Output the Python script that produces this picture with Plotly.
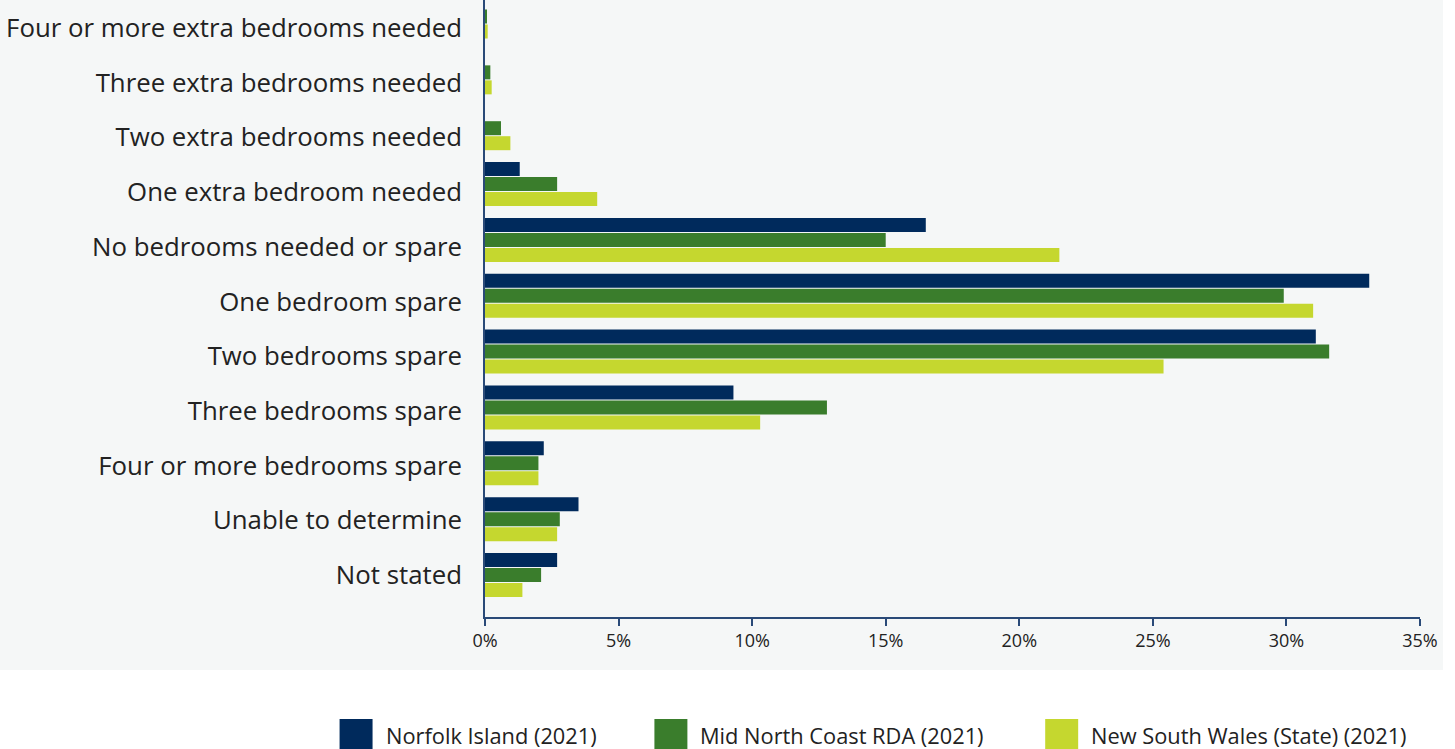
import plotly.graph_objects as go

categories = [
    "Four or more extra bedrooms needed",
    "Three extra bedrooms needed",
    "Two extra bedrooms needed",
    "One extra bedroom needed",
    "No bedrooms needed or spare",
    "One bedroom spare",
    "Two bedrooms spare",
    "Three bedrooms spare",
    "Four or more bedrooms spare",
    "Unable to determine",
    "Not stated",
]
series_names = ["Norfolk Island (2021)", "Mid North Coast RDA (2021)", "New South Wales (State) (2021)"]
norfolk = [0.0, 0.0, 0.0, 1.3, 16.5, 33.1, 31.1, 9.3, 2.2, 3.5, 2.7]
mid_north_coast = [0.05, 0.2, 0.6, 2.7, 15.0, 29.9, 31.6, 12.8, 2.0, 2.8, 2.1]
nsw = [0.1, 0.25, 0.95, 4.2, 21.5, 31.0, 25.4, 10.3, 2.0, 2.7, 1.4]
x_ticks = [0, 5, 10, 15, 20, 25, 30, 35]

colors = ["#002a5c", "#3a7d2c", "#c5d72f"]
bg = "#f5f7f7"
axis_col = "#2a4a78"
FONT = "Open Sans"

W, H = 1455, 749
L, R, T, B = 484.5, 1420, 0, 617

fig = go.Figure()
for name, vals, c in zip(series_names, [norfolk, mid_north_coast, nsw], colors):
    fig.add_trace(go.Bar(y=categories, x=vals, orientation="h", name=name,
                         marker=dict(color=c, line=dict(width=0)), showlegend=False))

# invisible trace carrying category labels on overlay axis
fig.add_trace(go.Scatter(y=categories, x=[0] * len(categories), yaxis="y2", mode="markers",
                         marker=dict(opacity=0), showlegend=False, hoverinfo="skip"))

pw = R - L
ph = B - T
fig.update_layout(
    width=W, height=H,
    margin=dict(l=L, r=W - R, t=T, b=H - B, pad=0),
    paper_bgcolor="white", plot_bgcolor="rgba(0,0,0,0)",
    barmode="group", bargap=0.194, bargroupgap=0.067,
    font=dict(family=FONT, color="#222222"),
    xaxis=dict(range=[0, 35], tickvals=x_ticks, ticktext=[f"{v}%" for v in x_ticks],
               showgrid=False, zeroline=False, showline=True, linecolor=axis_col, linewidth=1.5,
               ticks="outside", ticklen=7, tickcolor=axis_col, tickwidth=1.5,
               tickfont=dict(size=18, color="#222222", family=FONT)),
    yaxis=dict(type="category", categoryarray=categories, range=[10.752, -0.2954],
               showticklabels=False, showgrid=False, zeroline=False,
               showline=True, linecolor=axis_col, linewidth=1.5),
    yaxis2=dict(type="category", categoryarray=categories, overlaying="y", side="left",
                range=[10.768, -0.512], showgrid=False, zeroline=False, showline=False,
                ticks="", ticklabelstandoff=22,
                tickfont=dict(size=25.8, color="#222222", family=FONT)),
)

# gray background panel
fig.add_shape(type="rect", xref="paper", yref="paper", layer="below",
              x0=-L / pw - 0.01, x1=(1443 - L) / pw, y0=(B - 670) / ph, y1=1.02,
              fillcolor=bg, line=dict(width=0))

# custom legend (large square swatches)
sw_x = [339, 654, 1045]
for name, c, sx in zip(series_names, colors, sw_x):
    fig.add_shape(type="rect", xref="paper", yref="paper",
                  x0=(sx - L) / pw, x1=(sx + 33 - L) / pw,
                  y0=(B - 752) / ph, y1=(B - 719) / ph,
                  fillcolor=c, line=dict(width=0))
    fig.add_annotation(xref="paper", yref="paper", x=(sx + 44 - L) / pw, y=(B - 735) / ph,
                       text=name, showarrow=False, xanchor="left", yanchor="middle",
                       font=dict(size=21.8, color="#222222", family=FONT))

fig.write_html("out.html", config={"displayModeBar": False},
               post_script="document.body.style.margin='0';document.body.style.overflow='hidden';")
